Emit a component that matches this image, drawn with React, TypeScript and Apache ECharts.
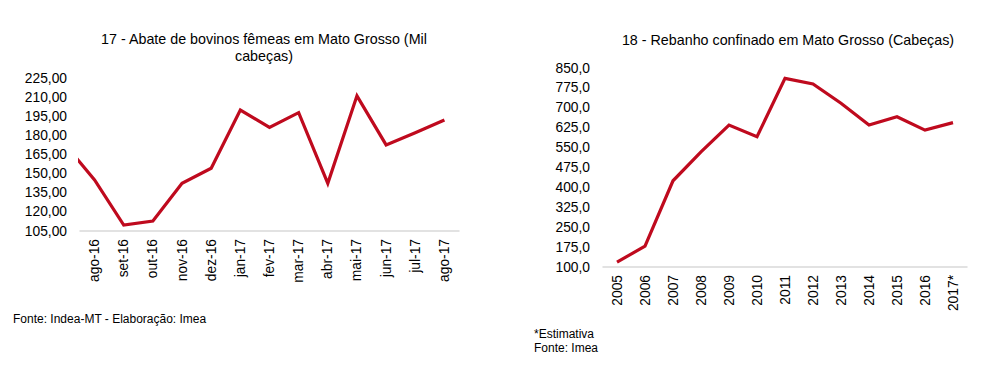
import React, { useEffect, useRef } from "react";
import * as echarts from "echarts";

// Chart 17 – Abate de bovinos fêmeas em Mato Grosso (Mil cabeças)
const months = ["ago-16", "set-16", "out-16", "nov-16", "dez-16", "jan-17", "fev-17", "mar-17", "abr-17", "mai-17", "jun-17", "jul-17", "ago-17"];
const abatePrevious = [172.5]; // jul-16, cut by the left edge of the plot
const abateValues = [145, 109.7, 112.8, 142.4, 154.2, 199.9, 186.3, 197.8, 142.4, 211, 172.5, 182, 192];
const abateTicks = { min: 105, max: 225, interval: 15 };

// Chart 18 – Rebanho confinado em Mato Grosso (Cabeças)
const years = ["2005", "2006", "2007", "2008", "2009", "2010", "2011", "2012", "2013", "2014", "2015", "2016", "2017*"];
const rebanhoValues = [118, 179, 425, 534, 635, 591, 811, 790, 717, 635, 666, 616, 644];
const rebanhoTicks = { min: 100, max: 850, interval: 75 };

const RED = "#BF0A1E";
const FONT = "Liberation Sans, Arial, Helvetica, sans-serif";

export default function App() {
  const ref = useRef<HTMLDivElement>(null);

  useEffect(() => {
    if (!ref.current) return;
    const chart = echarts.init(ref.current, undefined, { renderer: "svg" });

    const abateData: [number, number][] = [
      ...abatePrevious.map((v, i) => [i - abatePrevious.length, v] as [number, number]),
      ...abateValues.map((v, i) => [i, v] as [number, number]),
    ];

    const axisLabelStyle = { color: "#000", fontFamily: FONT, fontSize: 13.8 };

    chart.setOption({
      animation: false,
      textStyle: { fontFamily: FONT },
      title: [
        {
          text: "17 - Abate de bovinos fêmeas em Mato Grosso (Mil\ncabeças)",
          left: 259,
          top: 26,
          textAlign: "center",
          textStyle: { fontFamily: FONT, fontSize: 14.3, fontWeight: "normal", color: "#000", lineHeight: 16.5 },
        },
        {
          text: "18 - Rebanho confinado em Mato Grosso (Cabeças)",
          left: 783,
          top: 28,
          textAlign: "center",
          textStyle: { fontFamily: FONT, fontSize: 14.3, fontWeight: "normal", color: "#000" },
        },
      ],
      graphic: [
        {
          type: "text",
          left: 13,
          top: 313,
          style: { text: "Fonte: Indea-MT - Elaboração: Imea", font: `12px ${FONT}`, fill: "#000" },
        },
        {
          type: "text",
          left: 534,
          top: 327,
          style: { text: "*Estimativa\nFonte: Imea", font: `12px ${FONT}`, fill: "#000", lineHeight: 14 },
        },
      ],
      grid: [
        { left: 80, right: 533, top: 78, bottom: 141, containLabel: false },
        { left: 603, right: 25, top: 68, bottom: 105, containLabel: false },
      ],
      xAxis: [
        {
          type: "category",
          gridIndex: 0,
          data: months,
          boundaryGap: true,
          axisLine: { lineStyle: { color: "#D9D9D9", width: 1.5 } },
          axisTick: { show: false },
          axisLabel: { ...axisLabelStyle, rotate: 90, margin: 8, interval: 0 },
          splitLine: { show: false },
        },
        {
          type: "value",
          gridIndex: 0,
          min: -0.5,
          max: months.length - 0.5,
          show: false,
        },
        {
          type: "category",
          gridIndex: 1,
          data: years,
          boundaryGap: true,
          axisLine: { lineStyle: { color: "#D9D9D9", width: 1.5 } },
          axisTick: { show: false },
          axisLabel: { ...axisLabelStyle, rotate: 90, margin: 8, interval: 0 },
          splitLine: { show: false },
        },
      ],
      yAxis: [
        {
          type: "value",
          gridIndex: 0,
          min: abateTicks.min,
          max: abateTicks.max,
          interval: abateTicks.interval,
          axisLine: { show: false },
          axisTick: { show: false },
          splitLine: { show: false },
          axisLabel: {
            ...axisLabelStyle,
            margin: 13,
            formatter: (v: number) => v.toFixed(2).replace(".", ","),
          },
        },
        {
          type: "value",
          gridIndex: 1,
          min: rebanhoTicks.min,
          max: rebanhoTicks.max,
          interval: rebanhoTicks.interval,
          axisLine: { show: false },
          axisTick: { show: false },
          splitLine: { show: false },
          axisLabel: {
            ...axisLabelStyle,
            margin: 13,
            formatter: (v: number) => v.toFixed(1).replace(".", ","),
          },
        },
      ],
      series: [
        {
          type: "line",
          xAxisIndex: 1,
          yAxisIndex: 0,
          data: abateData,
          clip: true,
          showSymbol: false,
          symbol: "none",
          lineStyle: { color: RED, width: 3.2, join: "miter" },
        },
        {
          type: "line",
          xAxisIndex: 2,
          yAxisIndex: 1,
          data: rebanhoValues,
          showSymbol: false,
          symbol: "none",
          lineStyle: { color: RED, width: 3.2, join: "miter" },
        },
      ],
    });

    return () => chart.dispose();
  }, []);

  return <div ref={ref} style={{ width: 992, height: 372, position: "absolute", left: 0, top: 0, background: "#fff" }} />;
}
